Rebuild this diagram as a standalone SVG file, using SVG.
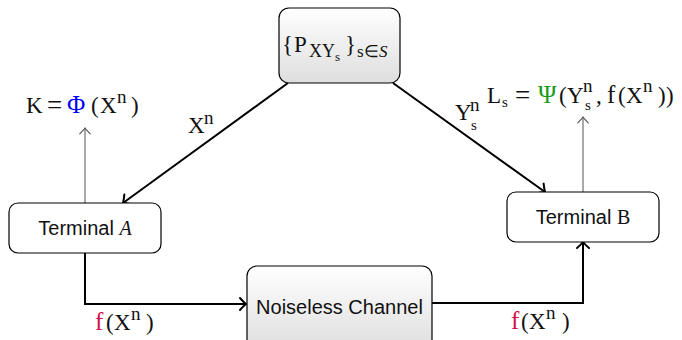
<svg xmlns="http://www.w3.org/2000/svg" width="682" height="340" viewBox="0 0 682 340">
<style>
.box{stroke:#000;stroke-width:1.2}
.plain{fill:#fff}
.sans{font-family:"Liberation Sans",Arial,sans-serif;font-size:20px;fill:#111}
.math{font-family:"Liberation Serif","Times New Roman",serif;font-size:23px;fill:#111}
.sup{font-size:19px}
.sub{font-size:15px}
.big{font-size:25px}
.eq{font-size:27px}
.main{fill:none;stroke:#000;stroke-width:2}
.aux{fill:none;stroke:#555;stroke-width:1}
.fc{fill:#d0104c;font-size:25px}
</style>
<defs>
<linearGradient id="g" x1="0" y1="0" x2="0" y2="1">
<stop offset="0" stop-color="#ffffff"/>
<stop offset="1" stop-color="#dedede"/>
</linearGradient>
<marker id="ah" markerUnits="userSpaceOnUse" markerWidth="16" markerHeight="16" viewBox="-10 -8 12 16" refX="0" refY="0" orient="auto">
<path d="M-6,-6 Q-2,-1.5 0,0 Q-2,1.5 -6,6" fill="none" stroke="#000" stroke-width="2" stroke-linecap="round"/>
</marker>
<marker id="ahg" markerUnits="userSpaceOnUse" markerWidth="14" markerHeight="14" viewBox="-8 -6 10 12" refX="0" refY="0" orient="auto">
<path d="M-5,-4.5 Q-1.5,-1 0,0 Q-1.5,1 -5,4.5" fill="none" stroke="#555" stroke-width="1" stroke-linecap="round"/>
</marker>
</defs>

<g id="connectors">
<line class="main" x1="288" y1="83" x2="123" y2="203" marker-end="url(#ah)"/>
<line class="main" x1="393" y1="83" x2="545" y2="192" marker-end="url(#ah)"/>
<path class="main" d="M85,253 V304 H246" marker-end="url(#ah)"/>
<path class="main" d="M432,303 H583 V242" marker-end="url(#ah)"/>
<line class="aux" x1="85" y1="203" x2="85" y2="128" marker-end="url(#ahg)"/>
<line class="aux" x1="583" y1="192" x2="583" y2="117" marker-end="url(#ahg)"/>
<text class="math"><tspan x="188" y="133">X</tspan><tspan class="sup" x="204" y="124">n</tspan></text>
<text class="math"><tspan x="455" y="120">Y</tspan><tspan class="sup" x="470" y="111">n</tspan><tspan class="sub" x="471" y="130">s</tspan></text>
<text class="math"><tspan class="fc" x="95" y="330">f</tspan><tspan x="106" y="330">(</tspan><tspan x="114" y="330">X</tspan><tspan class="sup" x="131" y="320">n</tspan><tspan x="146" y="330">)</tspan></text>
<text class="math"><tspan class="fc" x="511" y="329">f</tspan><tspan x="521" y="329">(</tspan><tspan x="529" y="329">X</tspan><tspan class="sup" x="546" y="319">n</tspan><tspan x="562" y="329">)</tspan></text>
</g>

<g id="source">
<rect class="box" x="279" y="8" width="121" height="75" rx="10" fill="url(#g)"/>
<text class="math" font-size="27"><tspan x="282" y="52">{</tspan><tspan x="294" y="52">P</tspan><tspan x="309" y="57" font-size="18">XY</tspan><tspan x="335" y="61" font-size="13">s</tspan><tspan x="345" y="52">}</tspan><tspan x="357" y="57" font-size="17">s∈</tspan><tspan x="379" y="57" font-size="17" font-style="italic">S</tspan></text>
</g>

<g id="terminalA">
<rect class="box plain" x="9" y="203" width="152" height="50" rx="9"/>
<text class="sans" x="85" y="235" text-anchor="middle">Terminal <tspan font-family="Liberation Serif" font-style="italic">A</tspan></text>
<text class="math"><tspan x="26" y="113">K</tspan><tspan class="eq" x="47" y="114">=</tspan><tspan class="big" x="67" y="113" fill="#0000ff">Φ</tspan><tspan x="91" y="113">(</tspan><tspan x="100" y="113">X</tspan><tspan class="sup" x="117" y="103">n</tspan><tspan x="131" y="113">)</tspan></text>
</g>

<g id="terminalB">
<rect class="box plain" x="507" y="192" width="152" height="50" rx="9"/>
<text class="sans" x="583" y="224" text-anchor="middle">Terminal <tspan font-family="Liberation Serif">B</tspan></text>
<text class="math"><tspan x="487" y="103">L</tspan><tspan class="sub" x="502" y="107">s</tspan><tspan class="eq" x="515" y="104">=</tspan><tspan class="big" x="538" y="103" fill="#1a9a1a">Ψ</tspan><tspan x="559" y="103">(</tspan><tspan x="567" y="103">Y</tspan><tspan class="sup" x="583" y="92">n</tspan><tspan class="sub" x="585" y="110">s</tspan><tspan x="596" y="103">,</tspan><tspan class="big" x="607" y="103">f</tspan><tspan x="618" y="103">(</tspan><tspan x="626" y="103">X</tspan><tspan class="sup" x="643" y="92">n</tspan><tspan x="658" y="103">)</tspan><tspan x="666" y="103">)</tspan></text>
</g>

<g id="channel">
<rect class="box" x="247" y="266" width="185" height="84" rx="10" fill="url(#g)"/>
<text class="sans" x="339.5" y="314" text-anchor="middle">Noiseless Channel</text>
</g>
</svg>
